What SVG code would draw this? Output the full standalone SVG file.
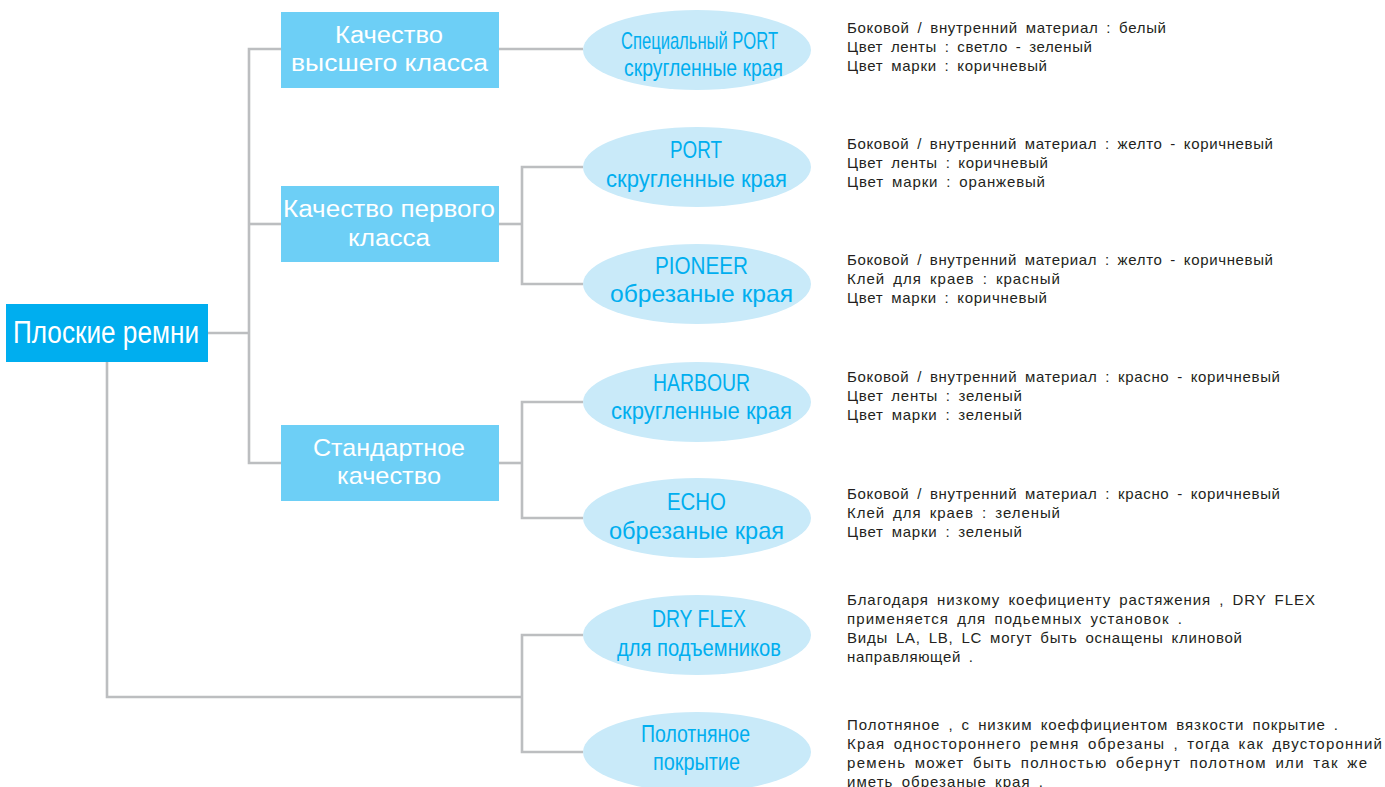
<svg xmlns="http://www.w3.org/2000/svg" width="1385" height="787" viewBox="0 0 1385 787">
<style>
.bg{fill:#ffffff}
.conn{fill:none;stroke:#bcbec0;stroke-width:2.6}
.root{fill:#00aeef}
.box{fill:#6dcff6}
.ell{fill:#c9eaf9}
.wt{font-family:"Liberation Sans",Arial,sans-serif;fill:#ffffff}
.ct{font-family:"Liberation Sans",Arial,sans-serif;fill:#00aeef;font-size:24px}
.info{font-family:"Liberation Sans",Arial,sans-serif;fill:#231f20;font-size:15px;word-spacing:3px}
</style>
<rect class="bg" x="0" y="0" width="1385" height="787"/>
<g id="connectors">
<polyline class="conn" points="208,333 249,333"/>
<polyline class="conn" points="281,49 249,49 249,463 281,463"/>
<polyline class="conn" points="249,224 281,224"/>
<polyline class="conn" points="498,49 583,49"/>
<polyline class="conn" points="498,224 522,224"/>
<polyline class="conn" points="583,167 522,167 522,284 583,284"/>
<polyline class="conn" points="498,463 522,463"/>
<polyline class="conn" points="583,402 522,402 522,518 583,518"/>
<polyline class="conn" points="107,362 107,697 522,697"/>
<polyline class="conn" points="583,635 522,635 522,752 583,752"/>
</g>
<g id="node-root">
<rect class="root" x="6" y="304" width="202" height="58"/>
<text class="wt" x="13" y="343" font-size="31" textLength="186" lengthAdjust="spacingAndGlyphs">Плоские ремни</text>
</g>
<g id="node-top">
<rect class="box" x="281" y="12" width="218" height="76"/>
<text class="wt" x="335" y="43" font-size="23" textLength="108" lengthAdjust="spacingAndGlyphs">Качество</text>
<text class="wt" x="291" y="71" font-size="23" textLength="197" lengthAdjust="spacingAndGlyphs">высшего класса</text>
</g>
<g id="node-first">
<rect class="box" x="281" y="186" width="218" height="76"/>
<text class="wt" x="283" y="217" font-size="23" textLength="212" lengthAdjust="spacingAndGlyphs">Качество первого</text>
<text class="wt" x="348" y="246" font-size="23" textLength="82" lengthAdjust="spacingAndGlyphs">класса</text>
</g>
<g id="node-standard">
<rect class="box" x="281" y="425" width="218" height="76"/>
<text class="wt" x="313" y="456" font-size="24" textLength="152" lengthAdjust="spacingAndGlyphs">Стандартное</text>
<text class="wt" x="337" y="484" font-size="24" textLength="104" lengthAdjust="spacingAndGlyphs">качество</text>
</g>
<g id="node-special-port">
<ellipse class="ell" cx="697" cy="50" rx="114" ry="40"/>
<text class="ct" x="621" y="49" textLength="157" lengthAdjust="spacingAndGlyphs">Специальный PORT</text>
<text class="ct" x="624" y="76" textLength="159" lengthAdjust="spacingAndGlyphs">скругленные края</text>
</g>
<g id="node-port">
<ellipse class="ell" cx="697" cy="167" rx="114" ry="40"/>
<text class="ct" x="670" y="158" textLength="52" lengthAdjust="spacingAndGlyphs">PORT</text>
<text class="ct" x="606" y="187" textLength="181" lengthAdjust="spacingAndGlyphs">скругленные края</text>
</g>
<g id="node-pioneer">
<ellipse class="ell" cx="697" cy="284" rx="114" ry="40"/>
<text class="ct" x="655" y="274" textLength="93" lengthAdjust="spacingAndGlyphs">PIONEER</text>
<text class="ct" x="610" y="302" textLength="183" lengthAdjust="spacingAndGlyphs">обрезаные края</text>
</g>
<g id="node-harbour">
<ellipse class="ell" cx="697" cy="402" rx="114" ry="40"/>
<text class="ct" x="653" y="391" textLength="97" lengthAdjust="spacingAndGlyphs">HARBOUR</text>
<text class="ct" x="611" y="419" textLength="181" lengthAdjust="spacingAndGlyphs">скругленные края</text>
</g>
<g id="node-echo">
<ellipse class="ell" cx="697" cy="518" rx="114" ry="40"/>
<text class="ct" x="667" y="510" textLength="59" lengthAdjust="spacingAndGlyphs">ECHO</text>
<text class="ct" x="609" y="539" textLength="175" lengthAdjust="spacingAndGlyphs">обрезаные края</text>
</g>
<g id="node-dryflex">
<ellipse class="ell" cx="697" cy="635" rx="114" ry="40"/>
<text class="ct" x="652" y="627" textLength="94" lengthAdjust="spacingAndGlyphs">DRY FLEX</text>
<text class="ct" x="617" y="656" textLength="164" lengthAdjust="spacingAndGlyphs">для подъемников</text>
</g>
<g id="node-canvas">
<ellipse class="ell" cx="697" cy="752" rx="114" ry="40"/>
<text class="ct" x="641" y="742" textLength="109" lengthAdjust="spacingAndGlyphs">Полотняное</text>
<text class="ct" x="653" y="770" textLength="87" lengthAdjust="spacingAndGlyphs">покрытие</text>
</g>
<g id="info-special-port">
<text class="info" x="847" y="33" textLength="319" lengthAdjust="spacing">Боковой / внутренний материал : белый</text>
<text class="info" x="847" y="52" textLength="245" lengthAdjust="spacing">Цвет ленты : светло - зеленый</text>
<text class="info" x="847" y="71" textLength="200" lengthAdjust="spacing">Цвет марки : коричневый</text>
</g>
<g id="info-port">
<text class="info" x="847" y="149" textLength="426" lengthAdjust="spacing">Боковой / внутренний материал : желто - коричневый</text>
<text class="info" x="847" y="168" textLength="201" lengthAdjust="spacing">Цвет ленты : коричневый</text>
<text class="info" x="847" y="187" textLength="198" lengthAdjust="spacing">Цвет марки : оранжевый</text>
</g>
<g id="info-pioneer">
<text class="info" x="847" y="265" textLength="426" lengthAdjust="spacing">Боковой / внутренний материал : желто - коричневый</text>
<text class="info" x="847" y="284" textLength="213" lengthAdjust="spacing">Клей для краев : красный</text>
<text class="info" x="847" y="303" textLength="200" lengthAdjust="spacing">Цвет марки : коричневый</text>
</g>
<g id="info-harbour">
<text class="info" x="847" y="382" textLength="433" lengthAdjust="spacing">Боковой / внутренний материал : красно - коричневый</text>
<text class="info" x="847" y="401" textLength="175" lengthAdjust="spacing">Цвет ленты : зеленый</text>
<text class="info" x="847" y="420" textLength="175" lengthAdjust="spacing">Цвет марки : зеленый</text>
</g>
<g id="info-echo">
<text class="info" x="847" y="499" textLength="433" lengthAdjust="spacing">Боковой / внутренний материал : красно - коричневый</text>
<text class="info" x="847" y="518" textLength="213" lengthAdjust="spacing">Клей для краев : зеленый</text>
<text class="info" x="847" y="537" textLength="175" lengthAdjust="spacing">Цвет марки : зеленый</text>
</g>
<g id="info-dryflex">
<text class="info" x="847" y="605" textLength="468" lengthAdjust="spacing">Благодаря низкому коефициенту растяжения , DRY FLEX</text>
<text class="info" x="847" y="624" textLength="335" lengthAdjust="spacing">применяется для подьемных установок .</text>
<text class="info" x="847" y="643" textLength="395" lengthAdjust="spacing">Виды LA, LB, LC могут быть оснащены клиновой</text>
<text class="info" x="847" y="662" textLength="126" lengthAdjust="spacing">направляющей .</text>
</g>
<g id="info-canvas">
<text class="info" x="847" y="730" textLength="491" lengthAdjust="spacing">Полотняное , с низким коеффициентом вязкости покрытие .</text>
<text class="info" x="847" y="749" textLength="535" lengthAdjust="spacing">Края одностороннего ремня обрезаны , тогда как двусторонний</text>
<text class="info" x="847" y="768" textLength="520" lengthAdjust="spacing">ремень может быть полностью обернут полотном или так же</text>
<text class="info" x="847" y="787" textLength="196" lengthAdjust="spacing">иметь обрезаные края .</text>
</g>
</svg>
